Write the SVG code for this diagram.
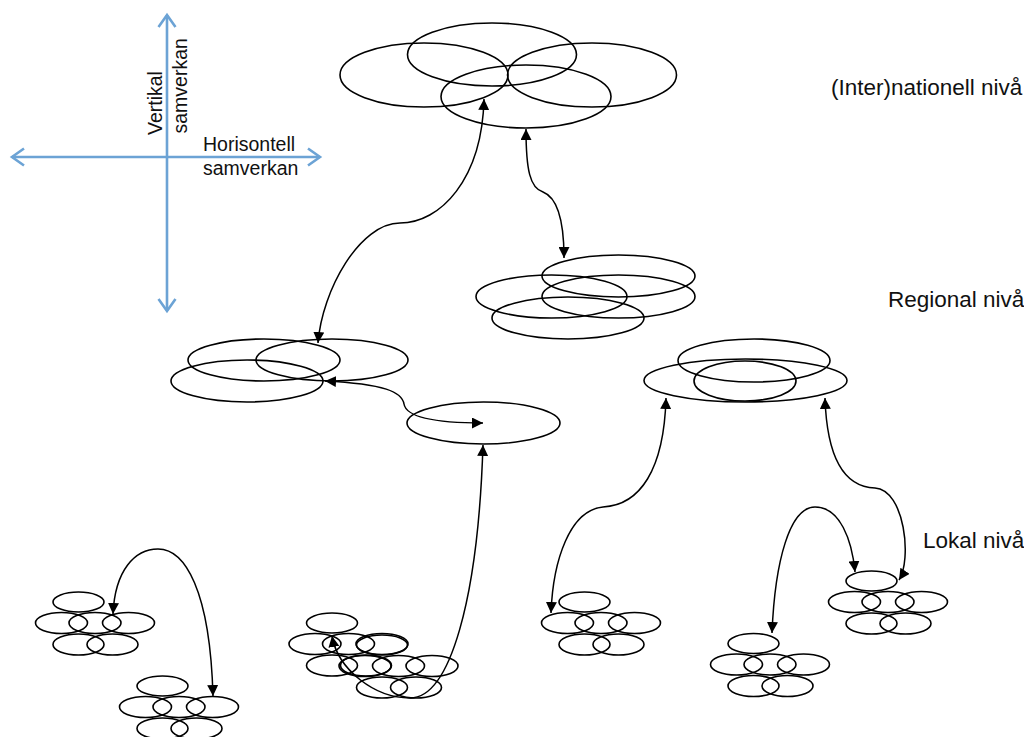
<svg xmlns="http://www.w3.org/2000/svg" xmlns:xlink="http://www.w3.org/1999/xlink" width="1024" height="737" viewBox="0 0 1024 737">
<style>
.e{fill:none;stroke:#000;stroke-width:1.6}
.c{fill:none;stroke:#000;stroke-width:1.5;marker-start:url(#ah);marker-end:url(#ah)}
.ax{fill:none;stroke:#6ca3d5;stroke-width:2.6;marker-start:url(#axh);marker-end:url(#axh)}
.t{font-family:"Liberation Sans",Arial,sans-serif;fill:#111}
.ts{font-size:19.5px}
.tl{font-size:22.5px}
</style>
<defs>
<marker id="ah" viewBox="0 0 10 10" refX="10" refY="5" markerWidth="11" markerHeight="11" markerUnits="userSpaceOnUse" orient="auto-start-reverse"><path d="M0,0 L10,5 L0,10 z" fill="#000"/></marker>
<marker id="axh" viewBox="-14 -10 16 20" refX="0" refY="0" markerWidth="16" markerHeight="20" markerUnits="userSpaceOnUse" orient="auto-start-reverse" overflow="visible"><path d="M-12,-8.5 L0,0 L-12,8.5" fill="none" stroke="#6ca3d5" stroke-width="2.6" stroke-linejoin="miter"/></marker>
<g id="local">
<ellipse class="e" cx="0" cy="0" rx="25.5" ry="10"/>
<ellipse class="e" cx="-17" cy="21" rx="26" ry="10.5"/>
<ellipse class="e" cx="16.5" cy="21" rx="26" ry="10.5"/>
<ellipse class="e" cx="50" cy="21" rx="26" ry="10.5"/>
<ellipse class="e" cx="0" cy="42.5" rx="25.5" ry="10.5"/>
<ellipse class="e" cx="34" cy="42.5" rx="25.5" ry="10.5"/>
</g>
</defs>
<rect width="1024" height="737" fill="#fff"/>

<g id="axes">
<line class="ax" x1="167" y1="15" x2="167" y2="311"/>
<line class="ax" x1="12" y1="157" x2="320" y2="157"/>
<text class="t ts" transform="translate(161.5,135) rotate(-90)">Vertikal</text>
<text class="t ts" transform="translate(186.5,133.5) rotate(-90)">samverkan</text>
<text class="t ts" x="203" y="151">Horisontell</text>
<text class="t ts" x="203" y="175">samverkan</text>
</g>

<g id="label-national"><text class="t tl" x="831" y="95">(Inter)nationell nivå</text></g>
<g id="label-regional"><text class="t tl" x="888" y="307">Regional nivå</text></g>
<g id="label-local"><text class="t tl" x="923" y="548">Lokal nivå</text></g>

<g id="national">
<ellipse class="e" cx="424" cy="75" rx="84" ry="32"/>
<ellipse class="e" cx="492" cy="54.5" rx="84.5" ry="31.5"/>
<ellipse class="e" cx="592" cy="75" rx="84.5" ry="32"/>
<ellipse class="e" cx="526" cy="96.5" rx="85" ry="31.5"/>
</g>

<g id="regional-a">
<ellipse class="e" cx="618.5" cy="276" rx="76.5" ry="21"/>
<ellipse class="e" cx="551.5" cy="296.5" rx="75.5" ry="21.5"/>
<ellipse class="e" cx="618.5" cy="296.5" rx="76.5" ry="21.5"/>
<ellipse class="e" cx="568" cy="318" rx="76" ry="21"/>
</g>

<g id="regional-b">
<ellipse class="e" cx="264" cy="360" rx="76" ry="21"/>
<ellipse class="e" cx="332" cy="360" rx="76" ry="21"/>
<ellipse class="e" cx="247" cy="381" rx="76" ry="21"/>
</g>

<g id="regional-c">
<ellipse class="e" cx="483.5" cy="423" rx="76.5" ry="21"/>
</g>

<g id="regional-d">
<ellipse class="e" cx="754" cy="360.5" rx="76" ry="21.5"/>
<ellipse class="e" cx="745.5" cy="380.5" rx="101.5" ry="21.5"/>
<ellipse class="e" cx="745" cy="381" rx="51" ry="20"/>
</g>

<g id="local-1"><use xlink:href="#local" href="#local" x="78.5" y="602"/></g>
<g id="local-2"><use xlink:href="#local" href="#local" x="162.5" y="686"/></g>
<g id="local-3"><use xlink:href="#local" href="#local" x="332" y="623"/></g>
<g id="local-4"><use xlink:href="#local" href="#local" x="382" y="645"/></g>
<g id="local-5"><use xlink:href="#local" href="#local" x="584.5" y="602"/></g>
<g id="local-6"><use xlink:href="#local" href="#local" x="871.5" y="581"/></g>
<g id="local-7"><use xlink:href="#local" href="#local" x="753.5" y="643.5"/></g>

<g id="connectors">
<path class="c" d="M484,99 C482,180 440,223 400,223 C360,223 322,290 318,343"/>
<path class="c" d="M526,129 C526,170 530,188 543,192 C556,197 564,215 564,258"/>
<path class="c" d="M325,381 C385,384 402,392 404,404 C406,416 430,423 483,423"/>
<path class="c" d="M332,636 C338,670 375,698 410,698 C450,698 478,600 483,445"/>
<path class="c" d="M113,614 C115,570 135,549 158,549 C185,549 210,590 213,696"/>
<path class="c" d="M666,398 C664,470 640,505 603,507 C570,510 553,560 551,613"/>
<path class="c" d="M825,398 C827,460 845,487 875,488 C905,490 912,560 899,580"/>
<path class="c" d="M772,633 C775,560 790,507 815,507 C840,507 852,540 855,572"/>
</g>
</svg>
